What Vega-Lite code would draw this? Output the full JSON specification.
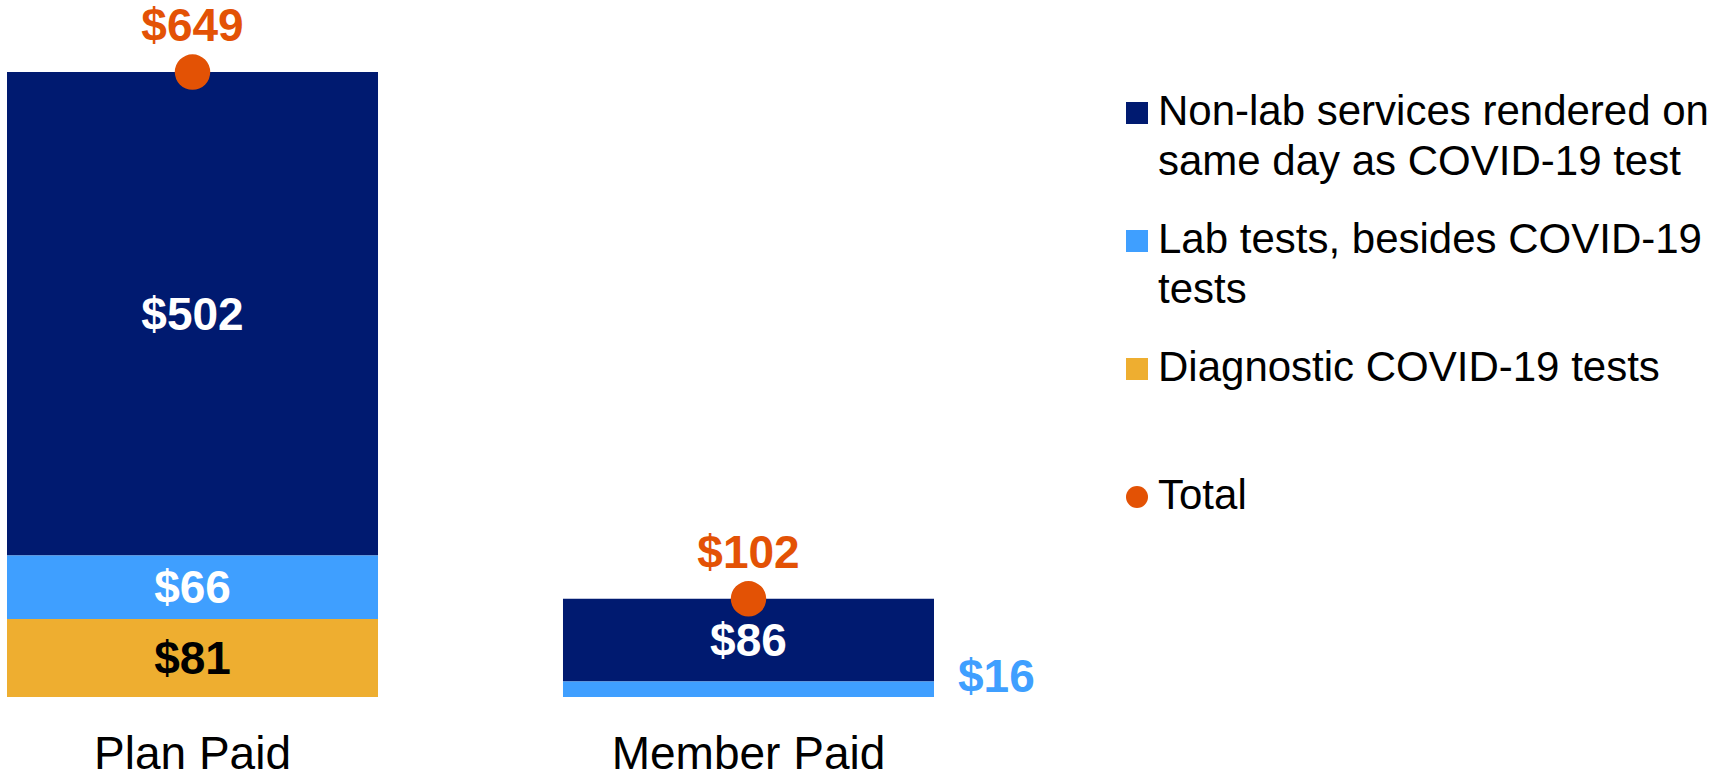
{
  "$schema": "https://vega.github.io/schema/vega-lite/v6.json",
  "width": 927,
  "height": 674,
  "autosize": {"type": "none"},
  "padding": {"left": 7, "top": 23, "right": 782, "bottom": 82},
  "background": "white",
  "config": {"view": {"stroke": null}, "font": "Liberation Sans"},
  "datasets": {
    "segments": [
      {"payer": "Plan Paid", "category": "Non-lab services rendered on same day as COVID-19 test", "value": 502},
      {"payer": "Plan Paid", "category": "Lab tests, besides COVID-19 tests", "value": 66},
      {"payer": "Plan Paid", "category": "Diagnostic COVID-19 tests", "value": 81},
      {"payer": "Member Paid", "category": "Non-lab services rendered on same day as COVID-19 test", "value": 86},
      {"payer": "Member Paid", "category": "Lab tests, besides COVID-19 tests", "value": 16}
    ],
    "totals": [
      {"payer": "Plan Paid", "total": 649},
      {"payer": "Member Paid", "total": 102}
    ]
  },
  "layer": [
    {
      "data": {"name": "segments"},
      "mark": {"type": "bar"},
      "encoding": {
        "x": {
          "field": "payer", "type": "nominal", "sort": ["Plan Paid", "Member Paid"],
          "scale": {"paddingInner": 0.3327, "paddingOuter": 0},
          "axis": {"title": null, "domain": false, "ticks": false, "labelFontSize": 46, "labelFont": "Liberation Sans", "labelColor": "black", "labelPadding": 35, "labelAngle": 0, "labelLimit": 0}
        },
        "y": {"field": "value", "type": "quantitative", "stack": "zero", "scale": {"domain": [0, 700]}, "axis": null},
        "color": {
          "field": "category", "type": "nominal",
          "scale": {
            "domain": ["Non-lab services rendered on same day as COVID-19 test", "Lab tests, besides COVID-19 tests", "Diagnostic COVID-19 tests", "Total"],
            "range": ["#001A70", "#3F9FFF", "#EEAE30", "#E35205"]
          },
          "legend": {
            "title": null, "orient": "none", "legendX": 1109, "legendY": 69,
            "labelFont": "Liberation Sans", "labelFontSize": 42, "labelColor": "black", "labelLimit": 800,
            "labelBaseline": "alphabetic", "labelOffset": 0,
            "symbolType": "square", "symbolSize": 484, "symbolStrokeWidth": 0,
            "gridAlign": "all", "rowPadding": 36,
            "labelExpr": "datum.label == 'Non-lab services rendered on same day as COVID-19 test' ? ['Non-lab services rendered on', 'same day as COVID-19 test'] : datum.label == 'Lab tests, besides COVID-19 tests' ? ['Lab tests, besides COVID-19', 'tests'] : datum.label",
            "encode": {
              "labels": {"update": {"dy": {"value": 12}, "lineHeight": {"value": 50}}},
              "symbols": {"update": {"shape": {"signal": "datum.value == 'Total' ? 'circle' : 'square'"}}}
            }
          }
        },
        "order": {"field": "category", "sort": "ascending"}
      }
    },
    {
      "data": {"name": "segments"},
      "mark": {"type": "text", "fontSize": 46, "fontWeight": "bold", "font": "Liberation Sans", "baseline": "middle", "dy": 2},
      "encoding": {
        "x": {"field": "payer", "type": "nominal", "sort": ["Plan Paid", "Member Paid"]},
        "y": {"field": "value", "type": "quantitative", "stack": "zero", "bandPosition": 0.5},
        "detail": {"field": "category"},
        "order": {"field": "category", "sort": "ascending"},
        "text": {"field": "value", "type": "quantitative", "format": "$,.0f"},
        "color": {"condition": {"test": "datum.category == 'Diagnostic COVID-19 tests'", "value": "black"}, "value": "white"},
        "opacity": {"condition": {"test": "datum.payer == 'Member Paid' && datum.category == 'Lab tests, besides COVID-19 tests'", "value": 0}, "value": 1}
      }
    },
    {
      "data": {"name": "segments"},
      "transform": [{"filter": "datum.payer == 'Member Paid' && datum.category == 'Lab tests, besides COVID-19 tests'"}],
      "mark": {"type": "text", "fontSize": 46, "fontWeight": "bold", "font": "Liberation Sans", "baseline": "middle", "align": "left", "dx": 24, "dy": -11, "color": "#3F9FFF"},
      "encoding": {
        "x": {"field": "payer", "type": "nominal", "sort": ["Plan Paid", "Member Paid"], "bandPosition": 1},
        "y": {"field": "value", "type": "quantitative", "stack": "zero", "bandPosition": 0.5},
        "text": {"field": "value", "type": "quantitative", "format": "$,.0f"}
      }
    },
    {
      "data": {"name": "totals"},
      "mark": {"type": "point", "filled": true, "size": 1257, "opacity": 1, "shape": "circle"},
      "encoding": {
        "x": {"field": "payer", "type": "nominal", "sort": ["Plan Paid", "Member Paid"]},
        "y": {"field": "total", "type": "quantitative"},
        "color": {"datum": "Total", "type": "nominal"}
      }
    },
    {
      "data": {"name": "totals"},
      "mark": {"type": "text", "fontSize": 46, "fontWeight": "bold", "font": "Liberation Sans", "baseline": "middle", "dy": -45, "color": "#E35205"},
      "encoding": {
        "x": {"field": "payer", "type": "nominal", "sort": ["Plan Paid", "Member Paid"]},
        "y": {"field": "total", "type": "quantitative"},
        "text": {"field": "total", "type": "quantitative", "format": "$,.0f"}
      }
    }
  ]
}
